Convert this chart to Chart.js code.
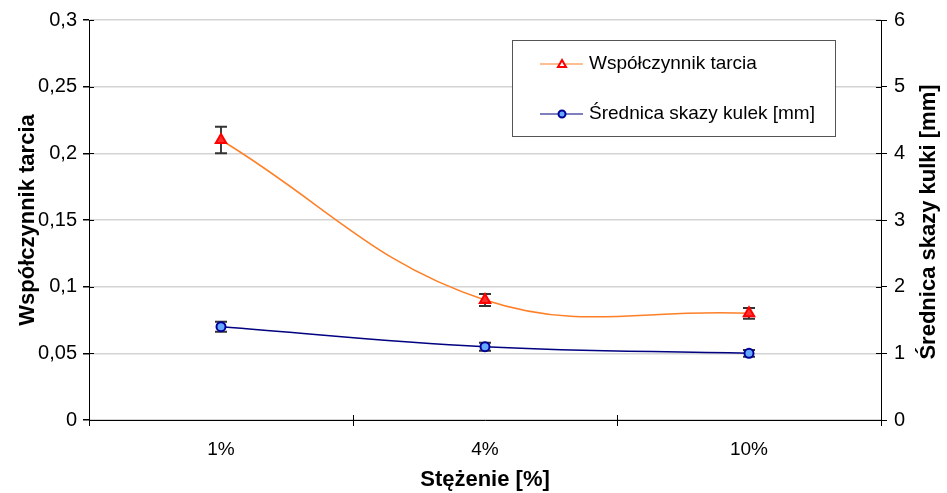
<!DOCTYPE html>
<html>
<head>
<meta charset="utf-8">
<script src="https://cdn.jsdelivr.net/npm/chart.js@4.4.1/dist/chart.umd.min.js"></script>
<style>
  body { margin: 0; background: #fff; }
  #wrap { width: 947px; height: 493px; position: relative; }
</style>
</head>
<body>
<div id="wrap"><canvas id="myChart"></canvas></div>
<script>
// dane
const categories = ["1%", "4%", "10%"];
const friction = [0.21, 0.09, 0.08];
const frictionErr = [0.01, 0.0045, 0.004];
const scarDiameter = [1.4, 1.1, 1.0];
const scarErr = [0.075, 0.06, 0.05];

const FONT = "'Liberation Sans', Arial, sans-serif";

// slupki bledow + krzyzujace sie znaczniki osi + tytul prawej osi + legenda
const extras = {
    id: "extras",
    beforeDatasetsDraw(chart) {
        const ctx = chart.ctx;
        ctx.save();
        chart.data.datasets.forEach((ds, i) => {
            const meta = chart.getDatasetMeta(i);
            const y = chart.scales[ds.yAxisID];
            ds.errors.forEach((e, j) => {
                const x = meta.data[j].x;
                const top = y.getPixelForValue(ds.data[j] + e);
                const bot = y.getPixelForValue(ds.data[j] - e);
                ctx.strokeStyle = "#000";
                ctx.lineWidth = 1.5;
                ctx.beginPath();
                ctx.moveTo(x, top); ctx.lineTo(x, bot);
                ctx.stroke();
                ctx.strokeStyle = "#333";
                ctx.lineWidth = 2;
                ctx.beginPath();
                ctx.moveTo(x - 6, top); ctx.lineTo(x + 6, top);
                ctx.moveTo(x - 6, bot); ctx.lineTo(x + 6, bot);
                ctx.stroke();
            });
        });
        ctx.restore();
    },
    afterDraw(chart) {
        const ctx = chart.ctx;
        const {y, y1, x} = chart.scales;
        ctx.save();
        ctx.strokeStyle = "#000";
        ctx.lineWidth = 1;
        ctx.beginPath();
        y.ticks.forEach((t, i) => {
            const py = Math.round(y.getPixelForTick(i)) + 0.5;
            ctx.moveTo(y.right, py); ctx.lineTo(y.right + 5, py);
        });
        y1.ticks.forEach((t, i) => {
            const py = Math.round(y1.getPixelForTick(i)) + 0.5;
            ctx.moveTo(y1.left - 5, py); ctx.lineTo(y1.left, py);
        });
        [x.left, (x.getPixelForValue(0) + x.getPixelForValue(1)) / 2,
         (x.getPixelForValue(1) + x.getPixelForValue(2)) / 2, x.right].forEach(px => {
            px = Math.round(px) + 0.5;
            ctx.moveTo(px, x.top - 5); ctx.lineTo(px, x.top);
        });
        ctx.stroke();

        // tytul prawej osi (czytany od dolu do gory)
        ctx.fillStyle = "#000";
        ctx.font = "bold 22px " + FONT;
        ctx.textAlign = "center";
        ctx.textBaseline = "middle";
        ctx.translate(929, (y1.top + y1.bottom) / 2 + 2);
        ctx.rotate(-Math.PI / 2);
        ctx.fillText("Średnica skazy kulki [mm]", 0, 0);
        ctx.restore();

        // legenda w ramce
        const lx = 512, ly = 40, lw = 323, lh = 96;
        ctx.save();
        ctx.fillStyle = "#fff";
        ctx.fillRect(lx, ly, lw, lh);
        ctx.strokeStyle = "#555";
        ctx.lineWidth = 1;
        ctx.strokeRect(lx + 0.5, ly + 0.5, lw, lh);
        ctx.font = "19px " + FONT;
        ctx.textBaseline = "middle";
        chart.data.datasets.forEach((ds, i) => {
            const ry = ly + 24 + i * 50;
            ctx.strokeStyle = ds.borderColor;
            ctx.lineWidth = 1;
            ctx.beginPath();
            ctx.moveTo(540, ry); ctx.lineTo(583, ry);
            ctx.stroke();
            ctx.lineWidth = 2;
            ctx.strokeStyle = ds.pointBorderColor;
            ctx.fillStyle = i === 0 ? "#fff" : ds.pointBackgroundColor;
            ctx.beginPath();
            if (i === 0) {
                ctx.moveTo(562, ry - 4); ctx.lineTo(566, ry + 3); ctx.lineTo(558, ry + 3); ctx.closePath();
            } else {
                ctx.arc(562, ry, 3.5, 0, Math.PI * 2);
            }
            ctx.fill();
            ctx.stroke();
            ctx.fillStyle = "#000";
            ctx.fillText(ds.label, 589, ry);
        });
        ctx.restore();
    }
};

new Chart(document.getElementById("myChart"), {
    type: "line",
    data: {
        labels: categories,
        datasets: [{
            label: "Współczynnik tarcia",
            data: friction,
            errors: frictionErr,
            yAxisID: "y",
            borderColor: "#ff7f27",
            borderWidth: 1.5,
            tension: 0.4,
            pointStyle: "triangle",
            pointRadius: 6,
            pointBorderWidth: 2,
            pointBorderColor: "#ff0000",
            pointBackgroundColor: "#ff3030"
        }, {
            label: "Średnica skazy kulek [mm]",
            data: scarDiameter,
            errors: scarErr,
            yAxisID: "y1",
            borderColor: "#000080",
            borderWidth: 1.5,
            tension: 0.4,
            pointStyle: "circle",
            pointRadius: 4.5,
            pointBorderWidth: 2,
            pointBorderColor: "#000099",
            pointBackgroundColor: "#66aaff"
        }]
    },
    options: {
        responsive: true,
        maintainAspectRatio: false,
        animation: false,
        layout: { padding: { top: 20, right: 0, left: 0, bottom: 0 } },
        plugins: {
            legend: { display: false },
            tooltip: { enabled: false }
        },
        scales: {
            x: {
                offset: true,
                grid: { offset: true, drawOnChartArea: false, color: "#000", tickLength: 6 },
                border: { color: "#000", width: 1 },
                ticks: { color: "#000", font: { family: FONT, size: 19 }, padding: 12 },
                title: { display: true, text: "Stężenie [%]", color: "#000",
                         font: { family: FONT, size: 22, weight: "bold" }, padding: { top: 0, bottom: 0 } },
                afterFit(s) { s.height = 73; }
            },
            y: {
                position: "left",
                min: 0, max: 0.3,
                ticks: { stepSize: 0.05, color: "#000", font: { family: FONT, size: 20 }, padding: 6,
                         callback: v => String(+v.toFixed(2)).replace(".", ",") },
                grid: { color: "#d4d4d4", lineWidth: 1.5, tickColor: "#000", tickLength: 6 },
                border: { color: "#000", width: 1 },
                title: { display: true, text: "Współczynnik tarcia", color: "#000",
                         font: { family: FONT, size: 22, weight: "bold" }, padding: { top: 15, bottom: 0 } },
                afterFit(s) { s.width = 89; }
            },
            y1: {
                position: "right",
                min: 0, max: 6,
                ticks: { stepSize: 1, color: "#000", font: { family: FONT, size: 20 }, padding: 7 },
                grid: { drawOnChartArea: false, color: "#000", tickLength: 6 },
                border: { color: "#000", width: 1 },
                afterFit(s) { s.width = 66; }
            }
        }
    },
    plugins: [extras]
});
</script>
</body>
</html>
